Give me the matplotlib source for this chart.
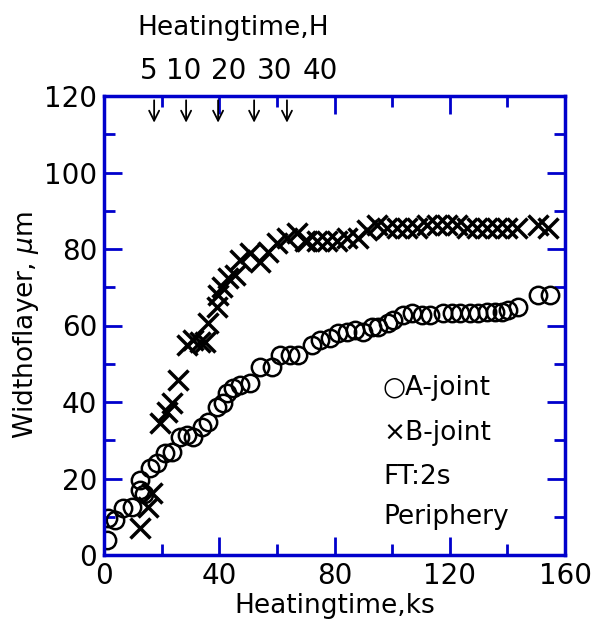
import matplotlib
matplotlib.use("Agg")
import matplotlib.pyplot as plt
from matplotlib.ticker import MultipleLocator

# ---- data ----
a_time = [1.0, 1.4, 3.8, 6.6, 9.7, 12.5, 12.5, 14.0, 16.0, 18.4, 21.2, 23.6, 26.4, 28.8,
          30.9, 34.0, 36.1, 39.2, 41.3, 42.7, 44.8, 47.2, 50.7, 54.2, 58.3, 61.1,
          64.6, 67.4, 72.2, 75.0, 78.5, 81.3, 84.4, 87.2, 89.9, 93.1, 95.1, 98.6,
          100.3, 103.8, 106.9, 110.4, 113.2, 117.7, 120.8, 123.6, 127.1, 129.9,
          133.0, 135.8, 138.2, 140.3, 143.8, 150.7, 154.9]
a_width = [3.9, 9.6, 9.1, 12.3, 12.5, 17.0, 19.6, 16.0, 22.7, 24.0, 26.6, 26.9, 30.8, 31.3,
           30.8, 33.4, 34.7, 38.6, 39.7, 42.3, 43.6, 44.4, 44.9, 49.1, 49.1, 52.2,
           52.2, 52.2, 54.8, 56.1, 56.7, 58.0, 58.2, 58.7, 58.2, 59.5, 59.5, 60.6,
           61.4, 62.7, 63.2, 62.7, 62.7, 63.2, 63.2, 63.2, 63.2, 63.2,
           63.4, 63.4, 63.4, 64.0, 64.8, 67.9, 67.9]

b_time = [12.5, 15.3, 16.7, 19.4, 21.9, 23.6, 25.7, 28.8, 30.9, 33.3, 35.1, 36.1,
          39.2, 39.6, 41.0, 43.1, 45.5, 47.2, 50.7, 54.2, 56.9, 60.1, 63.5, 67.0,
          69.8, 70.5, 74.0, 77.4, 80.9, 84.4, 88.2, 91.3, 94.8, 98.3, 101.7, 105.2,
          108.7, 112.2, 115.6, 119.1, 122.6, 126.0, 129.5, 133.0, 136.5, 139.9,
          143.4, 150.7, 154.2]
b_width = [7.0, 12.5, 16.2, 34.5, 37.3, 39.7, 45.7, 54.8, 56.1, 55.6, 55.6, 60.6,
           64.8, 67.9, 70.0, 72.3, 73.1, 77.0, 78.9, 76.5, 79.1, 81.5, 83.0, 84.1,
           82.2, 82.2, 82.2, 82.2, 82.2, 82.8, 83.0, 84.9, 86.2, 85.4, 85.6, 85.6,
           85.6, 86.2, 86.2, 86.2, 86.2, 85.6, 85.6, 85.6, 85.6, 85.6,
           85.6, 86.2, 85.6]

# heating time marks (arrows) in ks and their hour labels
arrow_ks = [17.4, 28.5, 39.6, 52.1, 63.5]
hour_labels = ["5", "10", "20", "30", "40"]
hour_label_x = [149, 184, 229, 275, 320]  # pixel centres in the reference

legend_lines = ["○A-joint", "×B-joint", "FT:2s", "Periphery"]

blue = "#0000cc"

fig = plt.figure(figsize=(5.95, 6.39), dpi=100)
ax = fig.add_axes([104 / 595, 1 - 555 / 639, (565 - 104) / 595, (555 - 96) / 639])

ax.plot(a_time, a_width, linestyle="none", marker="o", markersize=12.5,
        markerfacecolor="none", markeredgecolor="black", markeredgewidth=1.8)
ax.plot(b_time, b_width, linestyle="none", marker="x", markersize=14,
        color="black", markeredgewidth=2.5)

ax.set_xlim(0, 160)
ax.set_ylim(0, 120)
ax.xaxis.set_major_locator(MultipleLocator(40))
ax.xaxis.set_minor_locator(MultipleLocator(20))
ax.yaxis.set_major_locator(MultipleLocator(20))
ax.yaxis.set_minor_locator(MultipleLocator(10))

for s in ax.spines.values():
    s.set_color(blue)
    s.set_linewidth(2.5)
ax.tick_params(which="both", direction="in", top=True, right=True,
               color=blue, labelcolor="black", width=2, labelsize=20, pad=5)
ax.tick_params(which="major", length=13)
ax.tick_params(which="minor", length=8)

ax.set_xlabel("Heatingtime,ks", fontsize=19, labelpad=2)
ax.set_ylabel(r"Widthoflayer, $\mu$m", fontsize=19, labelpad=2)

# arrows along the top marking heating hours
for x in arrow_ks:
    ax.annotate("", xy=(x, 112.3), xytext=(x, 119.6),
                arrowprops=dict(arrowstyle="->", color="black", lw=1.3,
                                mutation_scale=18))

fig.text(233 / 595, 1 - 28 / 639, "Heatingtime,H", fontsize=19,
         ha="center", va="center")
for lab, px in zip(hour_labels, hour_label_x):
    fig.text(px / 595, 1 - 71 / 639, lab, fontsize=20, ha="center", va="center")

# text legend inside the axes
legend_y = [388, 433, 477, 517]
for txt, py in zip(legend_lines, legend_y):
    fig.text(383 / 595, 1 - py / 639, txt, fontsize=19, ha="left", va="center")

fig.savefig("out.png", dpi=100)
